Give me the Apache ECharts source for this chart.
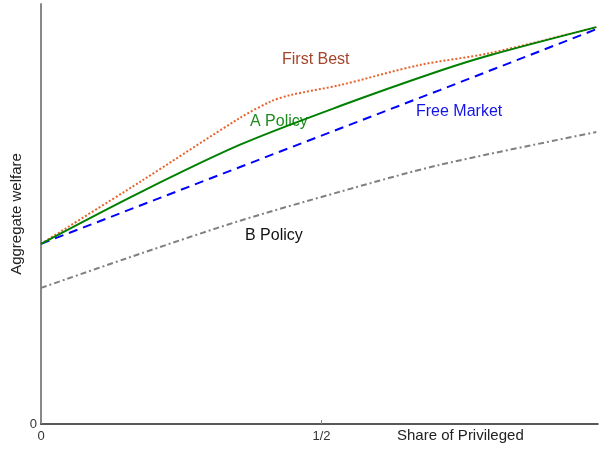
<!DOCTYPE html>
<html>
<head>
<meta charset="utf-8">
<script src="https://cdn.jsdelivr.net/npm/echarts@6/dist/echarts.min.js"></script>
<style>
  html, body { margin: 0; padding: 0; background: #fff; }
  #main { width: 599px; height: 450px; }
</style>
</head>
<body>
<div id="main"></div>
<script>
// share of privileged (x) and aggregate welfare (y)
var firstBest = [[0, 0.429], [0.176, 0.576], [0.355, 0.729], [0.41, 0.768], [0.444, 0.783], [0.533, 0.807], [0.676, 0.855], [0.8, 0.883], [0.99, 0.945]];
var aPolicy = [[0, 0.429], [0.176, 0.551], [0.355, 0.665], [0.533, 0.757], [0.711, 0.841], [0.8, 0.878], [0.99, 0.945]];
var freeMarket = [[0, 0.429], [0.355, 0.612], [0.711, 0.795], [0.99, 0.94]];
var bPolicy = [[0, 0.324], [0.176, 0.405], [0.355, 0.484], [0.533, 0.553], [0.711, 0.617], [0.99, 0.695]];
var xTickLabels = { 0: "0", 0.5: "1/2" };
var yTickLabels = { 0: "0" };

var myChart = echarts.init(document.getElementById("main"));
var font = "Liberation Sans, Arial, sans-serif";

function lineSeries(name, data, color, type, smooth) {
  return {
    name: name,
    type: "line",
    data: data,
    showSymbol: false,
    smooth: smooth,
    lineStyle: { color: color, width: 2, type: type },
    z: 3
  };
}

var option = {
  animation: false,
  grid: { left: 41, right: 1, top: 4, bottom: 26 },
  xAxis: {
    type: "value",
    min: 0,
    max: 0.993,
    interval: 0.5,
    splitLine: { show: false },
    axisLine: { lineStyle: { color: "#222", width: 1.5 } },
    axisTick: { show: true, inside: true, length: 4, lineStyle: { color: "#888" } },
    axisLabel: {
      color: "#333",
      fontFamily: font,
      fontSize: 13,
      margin: 6,
      showMaxLabel: false,
      formatter: function (v) { return xTickLabels[v] || ""; }
    }
  },
  yAxis: {
    type: "value",
    min: 0,
    max: 1,
    interval: 1,
    splitLine: { show: false },
    axisLine: { show: true, lineStyle: { color: "#888", width: 2 } },
    axisTick: { show: false },
    axisLabel: {
      color: "#333",
      fontFamily: font,
      fontSize: 13,
      margin: 4,
      formatter: function (v) { return yTickLabels[v] || ""; }
    }
  },
  graphic: [
    { type: "text", left: 397, top: 428, style: { text: "Share of Privileged", fill: "#222", font: "15px " + font } },
    { type: "text", x: 17, y: 214, rotation: Math.PI / 2, style: { text: "Aggregate welfare", fill: "#222", font: "15px " + font, align: "center", verticalAlign: "middle" } },
    { type: "text", left: 282, top: 52, style: { text: "First Best", fill: "#a5452a", font: "16px " + font } },
    { type: "text", left: 250, top: 114, style: { text: "A Policy", fill: "#1e8c1e", font: "16px " + font } },
    { type: "text", left: 416, top: 104, style: { text: "Free Market", fill: "#1414e6", font: "16px " + font } },
    { type: "text", left: 245, top: 228, style: { text: "B Policy", fill: "#111", font: "16px " + font } }
  ],
  series: [
    lineSeries("B Policy", bPolicy, "#808080", [6, 3, 2, 3], 0.3),
    lineSeries("Free Market", freeMarket, "#0000ff", [9, 6], false),
    lineSeries("First Best", firstBest, "#e8622c", [2, 2], 0.3),
    lineSeries("A Policy", aPolicy, "#008000", "solid", 0.3)
  ]
};
myChart.setOption(option);
</script>
</body>
</html>
